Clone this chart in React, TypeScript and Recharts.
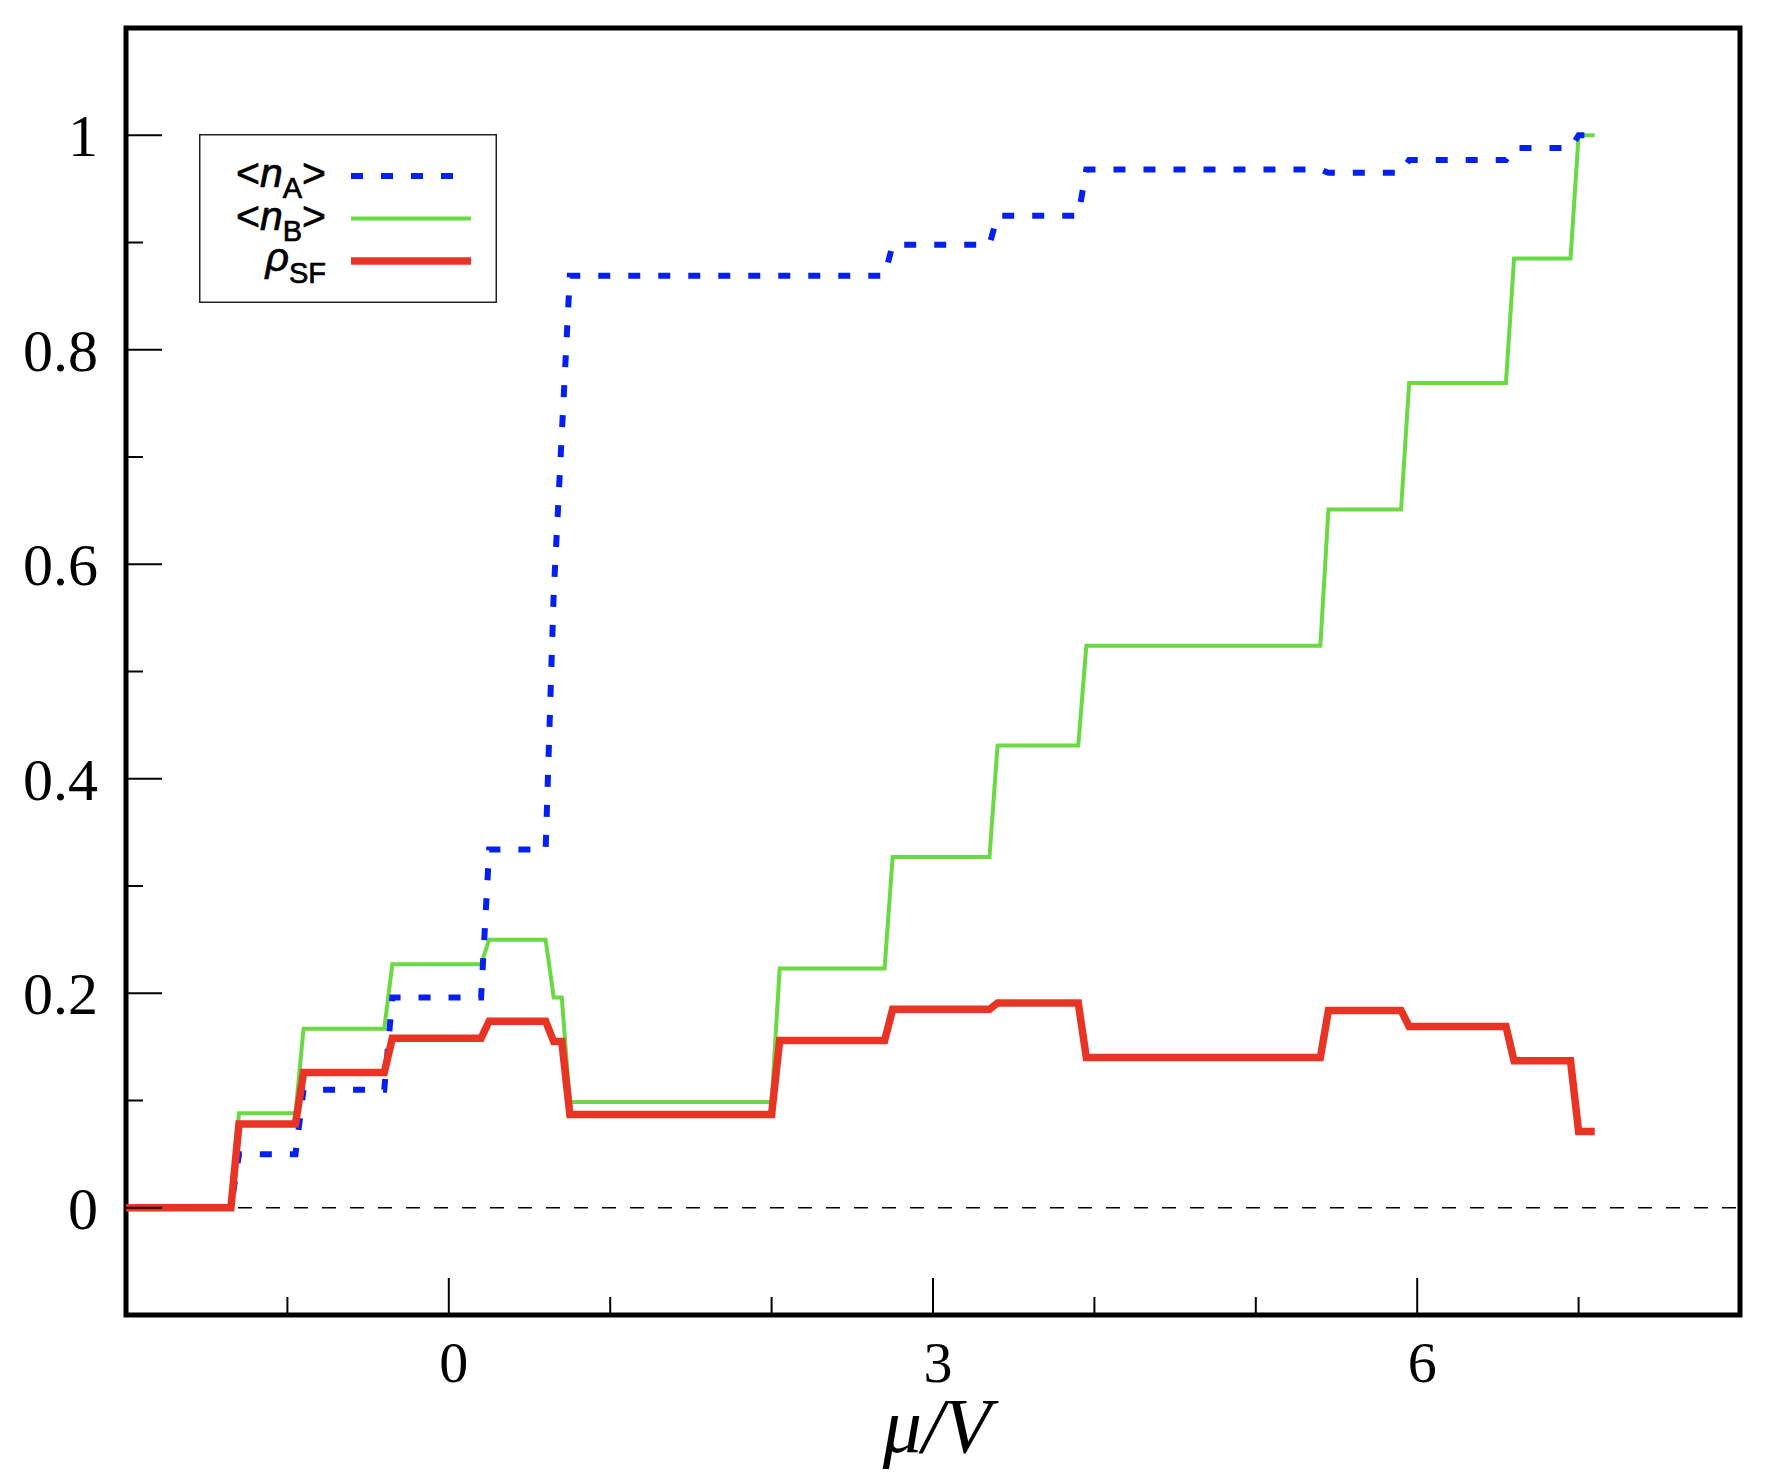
import { LineChart, Line, XAxis, YAxis, ReferenceLine, ReferenceArea, Legend } from 'recharts';

// mu/V breakpoints shared by <n_B> and rho_SF (sampled every 0.05, only the corners are kept)
const muSteps = [
  -2, -1.35, -1.3, -0.95, -0.9, -0.4, -0.35, 0.2, 0.25, 0.6, 0.65, 0.7, 0.75, 2.0, 2.05,
  2.7, 2.75, 3.35, 3.4, 3.9, 3.95, 5.4, 5.45, 5.9, 5.95, 6.55, 6.6, 6.95, 7.0, 7.1,
];
const nB = [
  0, 0, 0.088, 0.088, 0.167, 0.167, 0.227, 0.227, 0.25, 0.25, 0.196, 0.196, 0.0985, 0.0985, 0.223,
  0.223, 0.327, 0.327, 0.431, 0.431, 0.524, 0.524, 0.651, 0.651, 0.769, 0.769, 0.885, 0.885, 1.0, 1.0,
];
const rhoSF = [
  0, 0, 0.078, 0.078, 0.126, 0.126, 0.158, 0.158, 0.174, 0.174, 0.155, 0.155, 0.087, 0.087, 0.156,
  0.156, 0.185, 0.185, 0.191, 0.191, 0.14, 0.14, 0.184, 0.184, 0.169, 0.169, 0.137, 0.137, 0.071, 0.071,
];

// <n_A> has its own corners
const muA = [
  -2, -1.35, -1.3, -0.95, -0.9, -0.4, -0.35, 0.2, 0.25, 0.6, 0.65, 0.75, 2.7, 2.75,
  3.35, 3.4, 3.9, 3.95, 5.4, 5.45, 5.9, 5.95, 6.55, 6.6, 6.95, 7.0, 7.1,
];
const nA = [
  0, 0, 0.05, 0.05, 0.11, 0.11, 0.196, 0.196, 0.334, 0.334, 0.573, 0.869, 0.869, 0.898,
  0.898, 0.925, 0.925, 0.968, 0.968, 0.965, 0.965, 0.977, 0.977, 0.988, 0.988, 1.0, 1.0,
];

const xTicks = [-1, 0, 1, 2, 3, 4, 5, 6, 7];
const xMajor = [0, 3, 6];
const yTicks = [0, 0.1, 0.2, 0.3, 0.4, 0.5, 0.6, 0.7, 0.8, 0.9, 1.0];
const yMajor = [0, 0.2, 0.4, 0.6, 0.8, 1.0];

const legendOrder = ['nA', 'nB', 'rhoSF'];

const toPoints = (xs: number[], ys: number[]) => xs.map((x, i) => ({ x, y: ys[i] }));
const dataA = toPoints(muA, nA);
const dataB = toPoints(muSteps, nB);
const dataSF = toPoints(muSteps, rhoSF);

const BLUE = '#0420f0';
const GREEN = '#6ad943';
const RED = '#e83425';
const SERIF = '"Liberation Serif", "Times New Roman", serif';
const SANS = '"Liberation Sans", Arial, sans-serif';

const fmt = (v: number) => (Number.isInteger(v) ? String(v) : v.toFixed(1));

function XTick(props: any) {
  const { x, y, payload } = props;
  const v = payload.value;
  const major = xMajor.includes(v);
  return (
    <g>
      <line x1={x} x2={x} y1={y} y2={y - (major ? 37 : 18)} stroke="#000" strokeWidth={2} />
      {major && (
        <text x={x + 5} y={y + 67} textAnchor="middle" fontFamily={SERIF} fontSize={58} fill="#000">
          {fmt(v)}
        </text>
      )}
    </g>
  );
}

function YTick(props: any) {
  const { x, y, payload } = props;
  const v = payload.value;
  const major = yMajor.some((m) => Math.abs(m - v) < 1e-9);
  return (
    <g>
      <line x1={x} x2={x + (major ? 36 : 17)} y1={y} y2={y} stroke="#000" strokeWidth={2} />
      {major && (
        <text x={x - 28} y={y + 21} textAnchor="end" fontFamily={SERIF} fontSize={60} fill="#000">
          {fmt(v)}
        </text>
      )}
    </g>
  );
}

function LegendLabel({ name, cy }: { name: string; cy: number }) {
  const common = {
    x: 127,
    textAnchor: 'end' as const,
    fontFamily: SANS,
    fontSize: 41,
    fill: '#000',
    stroke: '#000',
    strokeWidth: 0.7,
  };
  if (name === 'rhoSF') {
    return (
      <text {...common} y={cy + 10}>
        <tspan fontStyle="italic">ρ</tspan>
        <tspan fontSize={29} dy={12}>SF</tspan>
      </text>
    );
  }
  const sub = name === 'nA' ? 'A' : 'B';
  return (
    <text {...common} y={cy + 11}>
      {'<'}
      <tspan fontStyle="italic">n</tspan>
      <tspan fontSize={29} dy={11}>{sub}</tspan>
      <tspan dy={-11}>{'>'}</tspan>
    </text>
  );
}

function LegendBox(props: any) {
  const items = [...(props.payload ?? [])].sort(
    (a: any, b: any) => legendOrder.indexOf(a.value) - legendOrder.indexOf(b.value),
  );
  return (
    <svg width={298} height={169} style={{ display: 'block' }}>
      <rect x={0.75} y={0.75} width={296.5} height={167.5} fill="#fff" stroke="#222" strokeWidth={1.5} />
      {items.map((it: any, i: number) => {
        const cy = 42 + i * 42.5;
        return (
          <g key={it.value}>
            <LegendLabel name={it.value} cy={cy} />
            <line
              x1={152}
              x2={272}
              y1={cy}
              y2={cy}
              stroke={it.color}
              strokeWidth={it.payload?.strokeWidth}
              strokeDasharray={it.payload?.strokeDasharray}
            />
          </g>
        );
      })}
    </svg>
  );
}

export default function App() {
  return (
    <div style={{ width: 1766, height: 1478, background: '#fff' }}>
      <style>{'body{margin:0}'}</style>
      <LineChart width={1766} height={1478} margin={{ top: 28, right: 26, bottom: 0, left: 0 }}>
        <XAxis
          type="number"
          dataKey="x"
          domain={[-2, 8]}
          ticks={xTicks}
          interval={0}
          allowDataOverflow
          height={163}
          tickSize={0}
          tickMargin={0}
          tickLine={false}
          axisLine={false}
          tick={<XTick />}
          label={{
            content: ({ viewBox }: any) => (
              <text
                x={viewBox.x + viewBox.width / 2 + 4}
                y={viewBox.y + 137}
                textAnchor="middle"
                fontFamily={SERIF}
                fontStyle="italic"
                fontSize={78}
                fill="#000"
              >
                μ/V
              </text>
            ),
          }}
        />
        <YAxis
          type="number"
          domain={[-0.1, 1.1]}
          ticks={yTicks}
          interval={0}
          allowDataOverflow
          width={126}
          tickSize={0}
          tickMargin={0}
          tickLine={false}
          axisLine={false}
          tick={<YTick />}
        />
        <ReferenceLine y={0} stroke="#000" strokeWidth={1.5} strokeDasharray="14 14" />
        <Line
          data={dataB}
          dataKey="y"
          name="nB"
          type="linear"
          stroke={GREEN}
          strokeWidth={4}
          strokeLinejoin="miter"
          dot={false}
          activeDot={false}
          isAnimationActive={false}
        />
        <Line
          data={dataA}
          dataKey="y"
          name="nA"
          type="linear"
          stroke={BLUE}
          strokeWidth={6}
          strokeDasharray="12 18"
          strokeLinejoin="miter"
          dot={false}
          activeDot={false}
          isAnimationActive={false}
        />
        <Line
          data={dataSF}
          dataKey="y"
          name="rhoSF"
          type="linear"
          stroke={RED}
          strokeWidth={7.5}
          strokeLinejoin="miter"
          dot={false}
          activeDot={false}
          isAnimationActive={false}
        />
        <ReferenceArea x1={-2} x2={8} y1={-0.1} y2={1.1} fill="none" fillOpacity={0} stroke="#000" strokeWidth={5} />
        <Legend
          layout="vertical"
          align="center"
          verticalAlign="middle"
          content={<LegendBox />}
          wrapperStyle={{ left: 199, top: 134, width: 298, height: 169, margin: 0, padding: 0 }}
        />
      </LineChart>
    </div>
  );
}
